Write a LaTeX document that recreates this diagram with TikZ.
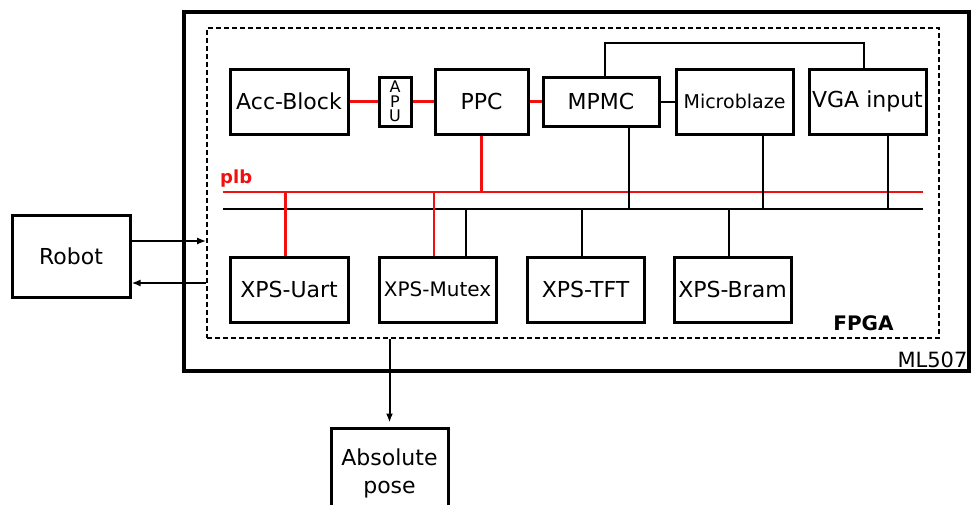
\documentclass[tikz,border=0pt]{standalone}
\usepackage{fontspec}
\setmainfont{DejaVu Sans}
\usetikzlibrary{arrows.meta,positioning}
\definecolor{buscol}{HTML}{F01010}
\definecolor{darktext}{HTML}{000000}

\begin{document}
\begin{tikzpicture}[x=1pt,y=-1pt,
      >={Latex[length=9pt,width=7pt]},
      box/.style={draw,line width=3pt,minimum width=117pt,minimum height=65pt,inner sep=1pt,align=center,font=\fontsize{22}{28}\selectfont},
      plbline/.style={draw=buscol,line width=2.2pt},
      busline/.style={draw=darktext,line width=2pt},
      lbl/.style={inner sep=0pt,font=\fontsize{21}{24}\selectfont}]
    \useasboundingbox (0,0) rectangle (971,504);
    % board and fpga frames
    \node[draw,line width=3.2pt,minimum width=785pt,minimum height=359pt] (ml) at (576.5,191.5) {};
    \node[draw,line width=1.6pt,dash pattern=on 5pt off 3pt,minimum width=732pt,minimum height=310pt] (fpga) at (573,183) {};
    \node[lbl,anchor=south east] at ([xshift=-3pt,yshift=5pt]ml.south east) {ML507};
    \node[lbl,font=\bfseries\fontsize{20}{24}\selectfont,anchor=south east] at ([xshift=-46pt,yshift=8pt]fpga.south east) {FPGA};
    % top row
    \node[box,minimum width=118pt] (acc) at (289,101.5) {Acc-Block};
    \node[box,minimum width=32pt,minimum height=49pt,inner sep=0pt,font=\fontsize{16}{14.5}\selectfont,right=28pt of acc] (apu) {A\\P\\U};
    \node[box,minimum width=93pt,right=21pt of apu] (ppc) {PPC};
    \node[box,minimum width=116pt,minimum height=49pt,right=12pt of ppc] (mpmc) {MPMC};
    \node[box,font=\fontsize{19}{24}\selectfont,right=14pt of mpmc] (micro) {Microblaze};
    \node[box,right=13pt of micro] (vga) {VGA input};
    % bottom row
    \node[box,minimum width=118pt] (uart) at (289,289.5) {XPS-Uart};
    \node[box,font=\fontsize{20}{24}\selectfont,right=28pt of uart] (mutex) {XPS-Mutex};
    \node[box,right=28pt of mutex] (tft) {XPS-TFT};
    \node[box,right=27pt of tft] (bram) {XPS-Bram};
    % outside
    \node[box,minimum width=118pt,minimum height=82pt] (robot) at (71,256) {Robot};
    \node[box,minimum height=90pt] (pose) at (389.5,473) {Absolute\\pose};
    % buses
    \coordinate (plbW) at (223,192);
    \coordinate (plbE) at (923,192);
    \coordinate (busW) at (223,209);
    \coordinate (busE) at (923,209);
    \draw[plbline] (plbW) -- (plbE);
    \draw[busline] (busW) -- (busE);
    \node[lbl,text=buscol,font=\bfseries\fontsize{18}{22}\selectfont,anchor=south west] at ([xshift=-3pt,yshift=5pt]plbW) {plb};
    % links
    \draw[plbline] (acc) -- (apu);
    \draw[plbline] (apu) -- (ppc);
    \draw[plbline] (ppc) -- (mpmc);
    \draw[busline] (mpmc) -- (micro);
    \draw[plbline] (ppc.south) -- (ppc.south |- plbW);
    \coordinate (vgatop) at ([xshift=-3.5pt]vga.north);
    \draw[busline] ([xshift=4pt]mpmc.north) -- ++(0,-33) -| (vgatop);
    \foreach \n/\dx in {mpmc/28,micro/28.5,vga/20.5} {
      \coordinate (t) at ([xshift=\dx pt]\n.south);
      \draw[busline] (t) -- (t |- busW);
    }
    \foreach \n/\dx in {mutex/28.5,tft/-3.5,bram/-3.5} {
      \coordinate (t) at ([xshift=\dx pt]\n.north);
      \draw[busline] (t |- busW) -- (t);
    }
    \foreach \n in {uart,mutex} {
      \coordinate (t) at ([xshift=-3.5pt]\n.north);
      \draw[plbline] (t |- plbW) -- (t);
    }
    % io arrows
    \coordinate (rin) at ([yshift=15pt]robot.east);
    \coordinate (rout) at ([yshift=-27pt]robot.east);
    \draw[->,line width=2pt] (rin) -- (rin -| fpga.west);
    \draw[->,line width=2pt] (rout -| fpga.west) -- (rout);
    \draw[->,line width=2pt,shorten >=4pt] (pose.north |- fpga.south) -- (pose.north);
  \end{tikzpicture}
\end{document}
